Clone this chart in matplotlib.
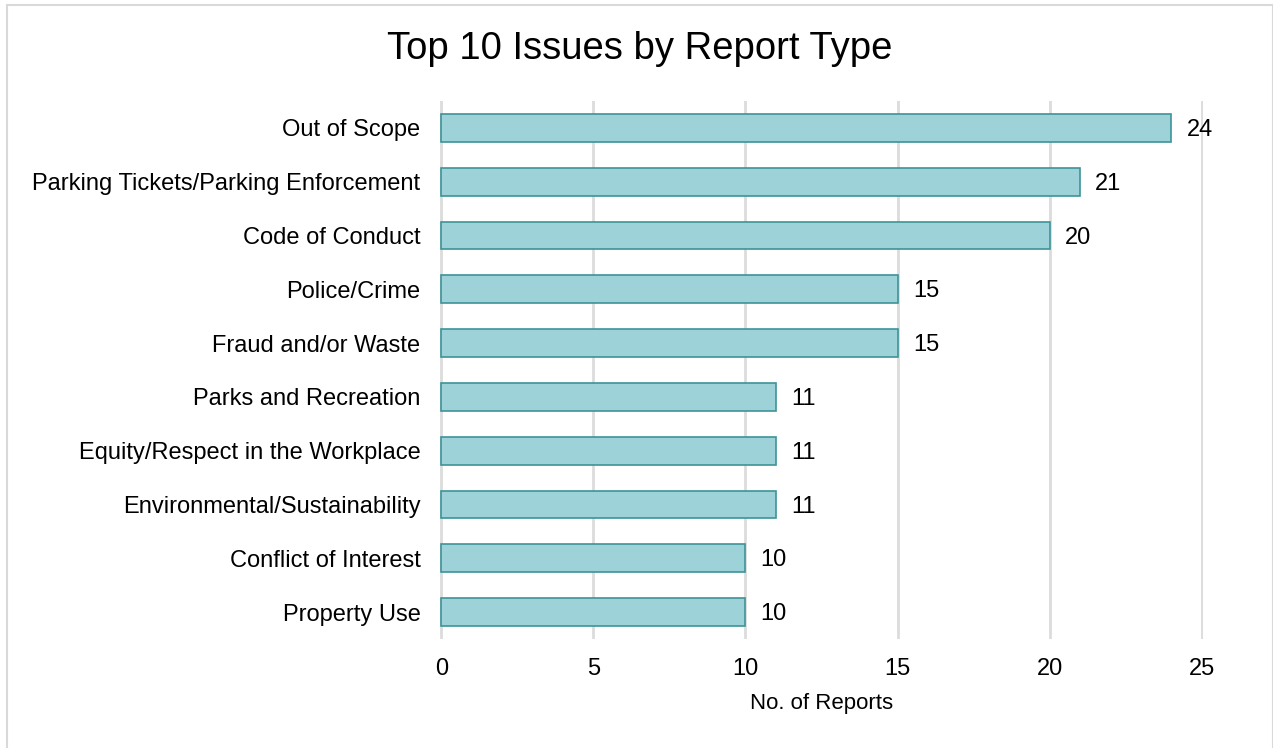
import matplotlib.pyplot as plt
from matplotlib.patches import Rectangle

plt.rcParams['font.family'] = ['Liberation Sans', 'DejaVu Sans']

categories = ['Out of Scope', 'Parking Tickets/Parking Enforcement', 'Code of Conduct',
              'Police/Crime', 'Fraud and/or Waste', 'Parks and Recreation',
              'Equity/Respect in the Workplace', 'Environmental/Sustainability',
              'Conflict of Interest', 'Property Use']
counts = [24, 21, 20, 15, 15, 11, 11, 11, 10, 10]
xticks = [0, 5, 10, 15, 20, 25]

fig = plt.figure(figsize=(12.73, 7.48), dpi=100)
ax = fig.add_axes([440 / 1273, 1 - 639 / 748, (1203 - 440) / 1273, (639 - 101) / 748])

# outer frame of the chart
fig.patches.append(Rectangle((6.5 / 1273, -0.01), (1266 / 1273), 1 - 4.5 / 748 + 0.01,
                             transform=fig.transFigure, fill=False,
                             edgecolor='#D9D9D9', linewidth=1.5))

y = list(range(len(categories)))
ax.barh(y, counts, height=0.52, color='#9DD3D8', edgecolor='#3E9399', linewidth=1.2, zorder=3)
for yi, v in zip(y, counts):
    ax.text(v + 0.5, yi + 0.04, str(v), va='center', ha='left', fontsize=17)

ax.set_ylim(len(categories) - 0.5, -0.5)
ax.set_xlim(-0.04, 25.04)
ax.set_yticks(y)
ax.set_yticklabels(categories, fontsize=17)
ax.set_xticks(xticks)
ax.set_xticklabels([str(t) for t in xticks], fontsize=17)
ax.tick_params(length=0, pad=14)
ax.tick_params(axis='x', pad=14)
ax.grid(axis='x', color='#DCDCDC', linewidth=2, zorder=0)
for s in ax.spines.values():
    s.set_visible(False)
ax.set_xlabel('No. of Reports', fontsize=16, labelpad=9)
fig.text(640 / 1273, 1 - 49 / 748, 'Top 10 Issues by Report Type', fontsize=27.5,
         ha='center', va='center')

fig.savefig('out.png', dpi=100)
